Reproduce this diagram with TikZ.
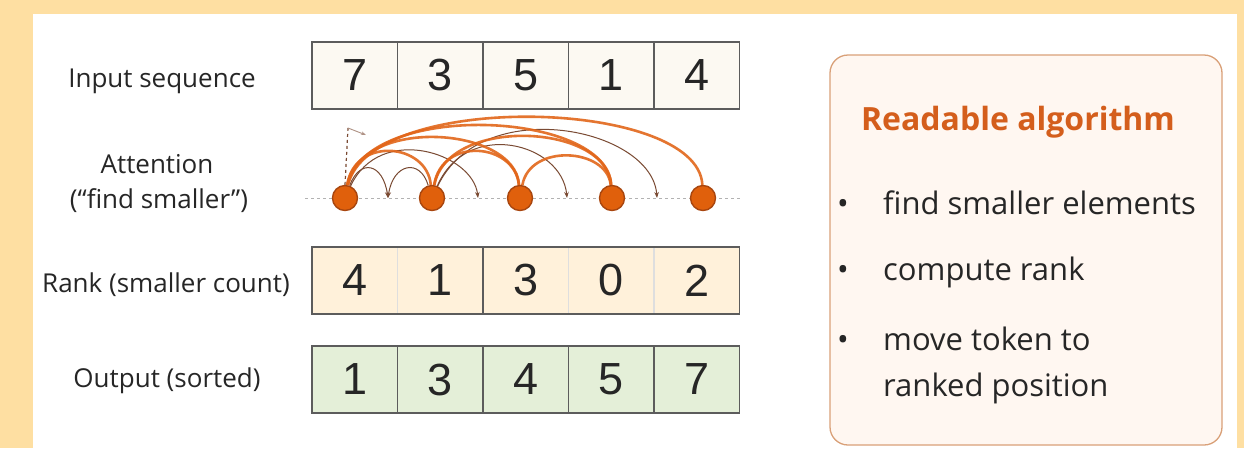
\documentclass[tikz,border=0pt]{standalone}
\usepackage{fontspec}
\setmainfont{Open Sans}
\newfontfamily\digitfont{Liberation Sans}
\usetikzlibrary{arrows.meta, positioning, backgrounds}

\definecolor{pageorange}{HTML}{FEDFA2}
\definecolor{cellline}{HTML}{5C5C5C}
\definecolor{infill}{HTML}{FCF9F2}
\definecolor{rankfill}{HTML}{FFF1DA}
\definecolor{outfill}{HTML}{E4EFD8}
\definecolor{attorange}{HTML}{E2661A}
\definecolor{dotfill}{HTML}{E0600C}
\definecolor{dotline}{HTML}{A8460F}
\definecolor{boxline}{HTML}{D9A078}
\definecolor{boxfill}{HTML}{FFF7F1}
\definecolor{titleorange}{HTML}{D45E1C}
\definecolor{hopline}{HTML}{7A4A33}

\begin{document}
\begin{tikzpicture}[
    x=1pt, y=1pt,
    node distance=0pt,
    lbl/.style={anchor=base, inner sep=0pt, text=black!85,
                font=\fontsize{26}{31}\selectfont},
    cell/.style={draw=cellline, line width=1.4pt, minimum width=85.5pt,
                 minimum height=67pt, inner sep=0pt, outer sep=0pt,
                 font=\digitfont\fontsize{45}{45}\selectfont, text=black!85},
    incell/.style={cell, fill=infill},
    rkcell/.style={cell, fill=rankfill, draw=cellline!20},
    outcell/.style={cell, fill=outfill},
    attdot/.style={circle, fill=dotfill, draw=dotline, line width=1.4pt,
                   minimum size=25pt, inner sep=0pt},
    att/.style={attorange, line width=2.6pt, opacity=0.9},
    hop/.style={hopline, line width=1pt, -{Stealth[length=6pt]}},
    algbox/.style={draw=boxline, fill=boxfill, line width=1.3pt,
                   rounded corners=18pt, minimum width=392pt,
                   minimum height=390pt},
    bultext/.style={anchor=base west, inner sep=0pt, text=black!85,
                    font=\fontsize{31}{36}\selectfont},
    bul/.style={anchor=base, inner sep=0pt, text=black!85,
                font=\fontsize{31}{36}\selectfont}
]
\useasboundingbox (0,0) rectangle (1244,-448);

% labels on the left
\node[lbl] (linput) at (162,-87)  {Input sequence};
\node[lbl] (latt)   at (157,-173) {Attention};
\node[lbl] (lfind)  at (159,-208) {(``find smaller'')};
\node[lbl] (lrank)  at (166,-292) {Rank (smaller count)};
\node[lbl] (lout)   at (167,-387) {Output (sorted)};

% input row
\node[incell] (in1) at (354.75,-75.5) {7};
\node[incell,right=of in1] (in2) {3};
\node[incell,right=of in2] (in3) {5};
\node[incell,right=of in3] (in4) {1};
\node[incell,right=of in4] (in5) {4};

% rank row
\node[rkcell] (rk1) at (354.75,-280.5) {4};
\node[rkcell,right=of rk1] (rk2) {1};
\node[rkcell,right=of rk2] (rk3) {3};
\node[rkcell,right=of rk3] (rk4) {0};
\node[rkcell,right=of rk4] (rk5) {2};
\draw[cellline, line width=1.4pt] (rk1.north west) rectangle (rk5.south east);
\draw[cellline, line width=1.4pt] (rk2.north east) -- (rk2.south east);

% output row
\node[outcell] (out1) at (354.75,-379.5) {1};
\node[outcell,right=of out1] (out2) {3};
\node[outcell,right=of out2] (out3) {4};
\node[outcell,right=of out3] (out4) {5};
\node[outcell,right=of out4] (out5) {7};

% attention tokens
\node[attdot] (a1) at (345,-198) {};
\node[attdot] (a2) at (432,-198) {};
\node[attdot] (a3) at (520,-198) {};
\node[attdot] (a4) at (612,-198) {};
\node[attdot] (a5) at (703,-198) {};
\coordinate (m1) at (388,-198);
\coordinate (m2) at (478,-198);
\coordinate (m3) at (567,-198);
\coordinate (m4) at (657,-198);
\coordinate (bl) at (305,-198);
\coordinate (br) at (742,-198);
\coordinate (selftop) at (348,-128);
\coordinate (selftip) at (366,-135);

% algorithm box
\node[algbox] (alg) at (1026,-250) {};
\node[anchor=base, inner sep=0pt, text=titleorange,
      font=\fontsize{32}{37}\selectfont\bfseries] (title) at (1018,-130)
      {Readable algorithm};
\node[bul] (bu1) at (843,-214) {\textbullet};
\node[bultext] (b1) at (883,-214) {find smaller elements};
\node[bul] (bu2) at (843,-280) {\textbullet};
\node[bultext] (b2) at (883,-280) {compute rank};
\node[bul] (bu3) at (843,-350) {\textbullet};
\node[bultext] (b3) at (883,-350) {move token to};
\node[bultext] (b3b) at (883,-396) {ranked position};

\begin{scope}[on background layer]
\fill[pageorange] (0,0) rectangle (1244,-448);
\fill[white] (33,-14) rectangle (1237,-448);
\draw[gray!60, dashed, line width=0.8pt] (bl) -- (br);
% thin hops to the gaps
\draw[hop] (a1) .. controls +(15,40) and +(-5,35) .. (m1);
\draw[hop] (a2) .. controls +(-12,40) and +(5,35) .. (m1);
\draw[hop] (a1) .. controls +(35,75) and +(-5,45) .. (m2);
\draw[hop] (a2) .. controls +(35,80) and +(-5,55) .. (m3);
\draw[hop] (a2) .. controls +(50,105) and +(-5,70) .. (m4);
% find smaller arcs
\draw[att] (a1) .. controls +(25,108) and +(-5,100) .. (a5);
\draw[att] (a1) .. controls +(20,98) and +(-5,88) .. (a4);
\draw[att] (a1) .. controls +(15,82) and +(-5,72) .. (a3);
\draw[att] (a1) .. controls +(10,62) and +(-5,55) .. (a2);
\draw[att] (a2) .. controls +(15,82) and +(-5,75) .. (a4);
\draw[att] (a2) .. controls +(10,62) and +(-5,55) .. (a3);
\draw[att] (a3) .. controls +(10,55) and +(-5,50) .. (a4);
% self link
\draw[hopline, dashed, line width=1.2pt] (a1.north) -- (selftop);
\draw[hopline!60, line width=0.9pt, -{Stealth[length=5pt]}] (selftop) -- (selftip);
\end{scope}
\end{tikzpicture}
\end{document}
